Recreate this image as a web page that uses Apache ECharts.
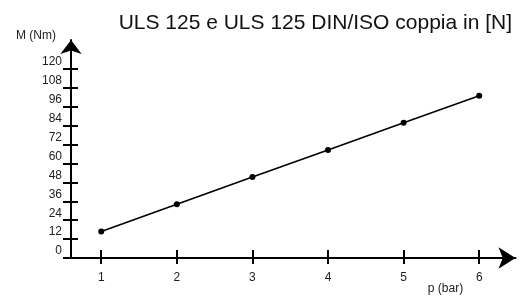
<!DOCTYPE html>
<html>
<head>
<meta charset="UTF-8">
<title>ULS 125 coppia</title>
<script src="https://cdn.jsdelivr.net/npm/echarts@6/dist/echarts.min.js"></script>
<style>
  html, body { margin: 0; padding: 0; background: #fff; }
  #chart { width: 528px; height: 297px; }
</style>
</head>
<body>
<div id="chart"></div>
<script>
// pressione (bar) e coppia M (Nm)
var pressure = [1, 2, 3, 4, 5, 6];
var torque = [16.8, 34.1, 51.4, 68.6, 85.9, 103];
var yTicks = [0, 12, 24, 36, 48, 60, 72, 84, 96, 108, 120];
var xTicks = [1, 2, 3, 4, 5, 6];

var font = 'Liberation Sans, Arial, sans-serif';
var chart = echarts.init(document.getElementById('chart'));

var baseX = {
  type: 'value',
  min: 0.6,
  max: 6.48,
  splitLine: { show: false }
};
var baseY = {
  type: 'value',
  min: 0,
  max: 138.4,
  splitLine: { show: false }
};

chart.setOption({
  animation: false,
  title: {
    text: 'ULS 125 e ULS 125 DIN/ISO coppia in [N]',
    right: 11,
    top: 8,
    textStyle: { fontFamily: font, fontSize: 21, fontWeight: 'normal', color: '#111' }
  },
  grid: { left: 71, right: 12.5, top: 40, bottom: 39, outerBoundsMode: 'none', containLabel: false },
  xAxis: [
    Object.assign({}, baseX, {
      name: 'p (bar)',
      nameLocation: 'end',
      nameGap: -70,
      nameTextStyle: {
        fontFamily: font, fontSize: 12, color: '#222',
        align: 'center', verticalAlign: 'top', padding: [25, 0, 0, 0]
      },
      axisLine: {
        lineStyle: { color: '#000', width: 2 },
        symbol: ['none', 'arrow'],
        symbolSize: [16, 17]
      },
      axisTick: { show: true, length: 6, customValues: xTicks, lineStyle: { color: '#000', width: 2 } },
      axisLabel: { customValues: xTicks, margin: 14, fontFamily: font, fontSize: 12, color: '#222' }
    }),
    Object.assign({}, baseX, {
      position: 'bottom',
      axisLine: { show: false },
      axisTick: { show: true, inside: true, length: 8, customValues: xTicks, lineStyle: { color: '#000', width: 2 } },
      axisLabel: { show: false }
    })
  ],
  yAxis: [
    Object.assign({}, baseY, {
      name: 'M (Nm)',
      nameLocation: 'end',
      nameGap: 4,
      nameTextStyle: {
        fontFamily: font, fontSize: 12, color: '#222',
        align: 'right', verticalAlign: 'middle', padding: [0, 15, 0, 0]
      },
      axisLine: {
        show: true,
        lineStyle: { color: '#000', width: 2 },
        symbol: ['none', 'arrow'],
        symbolSize: [16, 14]
      },
      axisTick: { show: true, length: 8, customValues: yTicks, lineStyle: { color: '#000', width: 2 } },
      axisLabel: {
        customValues: yTicks, margin: 9, fontFamily: font, fontSize: 12, color: '#222',
        verticalAlign: 'bottom', padding: [0, 0, 1, 0]
      }
    }),
    Object.assign({}, baseY, {
      position: 'left',
      axisLine: { show: false },
      axisTick: { show: true, inside: true, length: 7, customValues: yTicks, lineStyle: { color: '#000', width: 2 } },
      axisLabel: { show: false }
    })
  ],
  series: [{
    type: 'line',
    xAxisIndex: 0,
    yAxisIndex: 0,
    data: pressure.map(function (p, i) { return [p, torque[i]]; }),
    symbol: 'circle',
    symbolSize: 6,
    lineStyle: { color: '#000', width: 1.6 },
    itemStyle: { color: '#000' }
  }]
});
</script>
</body>
</html>
